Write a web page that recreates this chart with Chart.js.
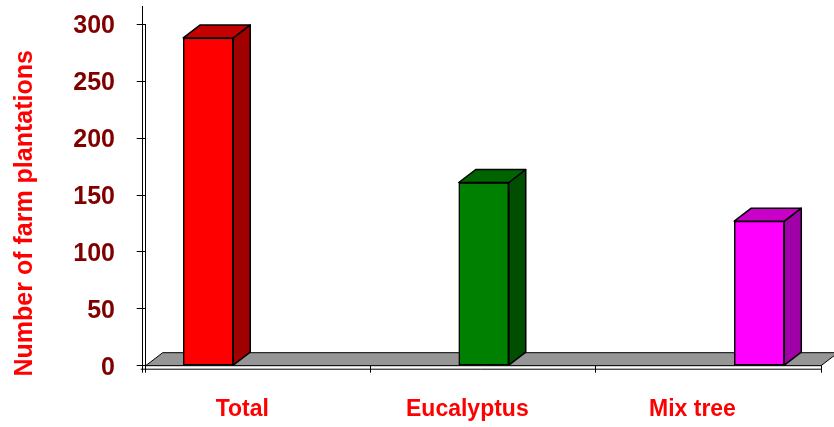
<!DOCTYPE html>
<html>
<head>
<meta charset="utf-8">
<script src="https://cdn.jsdelivr.net/npm/chart.js@4.4.1/dist/chart.umd.min.js"></script>
<style>
  html, body { margin: 0; padding: 0; background: #fff; }
  #wrap { width: 834px; height: 427px; }
</style>
</head>
<body>
<div id="wrap"><canvas id="plantChart"></canvas></div>
<script>
// Farm plantations - 3D style column chart

const categories = ['Total', 'Eucalyptus', 'Mix tree'];
const plantations = [288, 161, 127];
const yTicks = [0, 50, 100, 150, 200, 250, 300];
const yTitle = 'Number of farm plantations';

const frontColors = ['#ff0000', '#008000', '#ff00ff'];
const sideColors = ['#a00000', '#004f00', '#a000a8'];
const topColors = ['#c40000', '#006400', '#c800c8'];

const FONT = '"Liberation Sans", Arial, sans-serif';
const DEPTH_X = 17;
const DEPTH_Y = 13;

// floor, extra axis lines, bar sides/tops and the rotated y title
const threeD = {
    id: 'threeD',
    beforeDatasetsDraw(chart) {
        const ctx = chart.ctx;
        const a = chart.chartArea;
        ctx.save();
        ctx.fillStyle = '#969696';
        ctx.strokeStyle = '#000';
        ctx.lineWidth = 1;
        ctx.beginPath();
        ctx.moveTo(a.left, a.bottom);
        ctx.lineTo(a.right, a.bottom);
        ctx.lineTo(a.right + DEPTH_X, a.bottom - DEPTH_Y);
        ctx.lineTo(a.left + DEPTH_X, a.bottom - DEPTH_Y);
        ctx.closePath();
        ctx.fill();
        ctx.stroke();

        // second axis line under the floor and outer wall line
        ctx.beginPath();
        ctx.moveTo(a.left - 5, a.bottom + 3.5);
        ctx.lineTo(a.right, a.bottom + 3.5);
        ctx.moveTo(a.left - 3.2, 6);
        ctx.lineTo(a.left - 3.2, a.bottom + 7);
        ctx.stroke();
        ctx.restore();
    },
    afterDatasetsDraw(chart) {
        const ctx = chart.ctx;
        const meta = chart.getDatasetMeta(0);
        ctx.save();
        ctx.strokeStyle = '#000';
        ctx.lineWidth = 1.5;
        ctx.lineJoin = 'round';
        meta.data.forEach((bar, i) => {
            const l = bar.x - bar.width / 2;
            const r = bar.x + bar.width / 2;
            const t = bar.y;
            const b = bar.base;
            // side
            ctx.fillStyle = sideColors[i];
            ctx.beginPath();
            ctx.moveTo(r, t);
            ctx.lineTo(r + DEPTH_X, t - DEPTH_Y);
            ctx.lineTo(r + DEPTH_X, b - DEPTH_Y);
            ctx.lineTo(r, b);
            ctx.closePath();
            ctx.fill();
            ctx.stroke();
            // top
            ctx.fillStyle = topColors[i];
            ctx.beginPath();
            ctx.moveTo(l, t);
            ctx.lineTo(l + DEPTH_X, t - DEPTH_Y);
            ctx.lineTo(r + DEPTH_X, t - DEPTH_Y);
            ctx.lineTo(r, t);
            ctx.closePath();
            ctx.fill();
            ctx.stroke();
        });
        ctx.restore();

        // y axis title
        ctx.save();
        ctx.translate(31.7, 213.3);
        ctx.rotate(-Math.PI / 2);
        ctx.font = 'bold 25px ' + FONT;
        ctx.fillStyle = '#ff0000';
        ctx.textAlign = 'center';
        ctx.textBaseline = 'alphabetic';
        ctx.fillText(yTitle, 0, 0);
        ctx.restore();
    }
};

new Chart(document.getElementById('plantChart'), {
    type: 'bar',
    data: {
        labels: categories,
        datasets: [{
            label: 'Farm plantations',
            data: plantations.map((v, i) => ({ x: i, y: v })),
            xAxisID: 'xb',
            backgroundColor: frontColors,
            borderColor: '#000',
            borderWidth: 1.5,
            borderSkipped: false,
            barThickness: 50
        }]
    },
    options: {
        responsive: true,
        maintainAspectRatio: false,
        animation: false,
        layout: {
            padding: { top: 24.3, right: 13, bottom: 0, left: 0 }
        },
        plugins: {
            legend: { display: false },
            tooltip: { enabled: false }
        },
        scales: {
            xb: {
                type: 'linear',
                display: false,
                offset: false,
                grid: { offset: false },
                min: -0.227,
                max: 2.224
            },
            x: {
                type: 'category',
                offset: true,
                afterFit: (scale) => { scale.height = 61.3; },
                grid: {
                    offset: true,
                    drawOnChartArea: false,
                    tickLength: 7,
                    color: '#000'
                },
                border: { display: true, color: '#000', width: 1 },
                ticks: {
                    color: '#ff0000',
                    font: { family: FONT, size: 23, weight: 'bold' },
                    padding: 23,
                    labelOffset: -16,
                    maxRotation: 0
                }
            },
            y: {
                min: 0,
                max: 300,
                afterFit: (scale) => {
                    scale.width = 145.7;
                    scale.paddingTop = 0;
                    scale.paddingBottom = 0;
                },
                afterBuildTicks: (scale) => {
                    scale.ticks = yTicks.map(v => ({ value: v }));
                },
                grid: {
                    drawOnChartArea: false,
                    tickLength: 9,
                    color: '#000'
                },
                border: { display: true, color: '#000', width: 1 },
                ticks: {
                    color: '#800000',
                    font: { family: FONT, size: 25, weight: 'bold' },
                    padding: 21.7,
                    labelOffset: 2
                }
            }
        }
    },
    plugins: [threeD]
});
</script>
</body>
</html>
